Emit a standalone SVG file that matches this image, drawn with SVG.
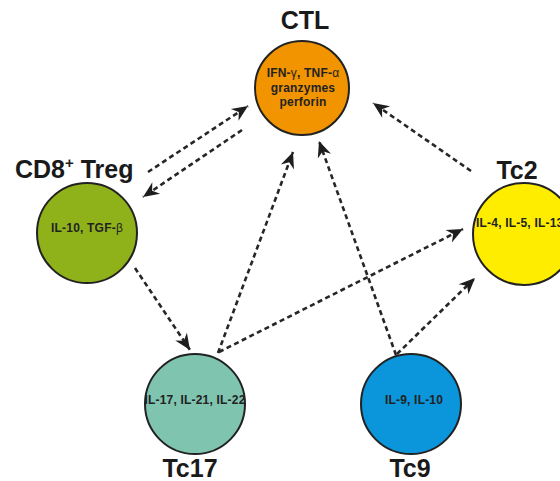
<svg xmlns="http://www.w3.org/2000/svg" width="560" height="481" viewBox="0 0 560 481">
<style>
.node circle{stroke:#222;stroke-width:2}
.lbl{font-family:"Liberation Sans",Arial,sans-serif;font-weight:bold;font-size:25px;fill:#1a1a1a}
.in{font-family:"Liberation Sans",Arial,sans-serif;font-weight:bold;font-size:12px;letter-spacing:0.2px;fill:#222}
.gr{font-weight:normal}
.conn line{stroke:#262626;stroke-width:2.6;stroke-dasharray:5 3.5;fill:none;marker-end:url(#ah)}
</style>
<defs>
<marker id="ah" viewBox="-18 -9 20 18" markerWidth="20" markerHeight="18" refX="0" refY="0" orient="auto" markerUnits="userSpaceOnUse">
<path d="M0,0 L-16,-7 L-11,0 L-16,7 Z" fill="#1e1e1e"/>
</marker>
</defs>
<rect width="560" height="481" fill="#fff"/>
<g class="conn" id="connectors">
<line x1="148" y1="172" x2="248" y2="106"/>
<line x1="242" y1="130" x2="143" y2="197"/>
<line x1="135" y1="268" x2="190" y2="350"/>
<line x1="218" y1="353" x2="293" y2="152"/>
<line x1="396" y1="355" x2="319" y2="141"/>
<line x1="219" y1="352" x2="463" y2="229"/>
<line x1="397" y1="354" x2="475" y2="278"/>
<line x1="471" y1="171" x2="373" y2="103"/>
</g>
<g class="node" id="ctl">
<circle cx="302" cy="88" r="47" fill="#F29400"/>
<text class="lbl" x="305" y="29" text-anchor="middle">CTL</text>
<text class="in" x="303" y="77" text-anchor="middle">IFN-<tspan class="gr">γ</tspan>, TNF-<tspan class="gr">α</tspan></text>
<text class="in" x="303" y="92" text-anchor="middle">granzymes</text>
<text class="in" x="303" y="106" text-anchor="middle">perforin</text>
</g>
<g class="node" id="treg">
<circle cx="87" cy="233" r="50" fill="#8FB21B"/>
<text class="lbl" x="15" y="178">CD8<tspan font-size="15" dy="-10">+</tspan><tspan dy="10"> Treg</tspan></text>
<text class="in" x="87" y="232" text-anchor="middle">IL-10, TGF-<tspan class="gr">β</tspan></text>
</g>
<g class="node" id="tc2">
<circle cx="524" cy="234" r="51" fill="#FFED00"/>
<text class="lbl" x="517" y="179" text-anchor="middle">Tc2</text>
<text class="in" x="476" y="227">IL-4, IL-5, IL-13</text>
</g>
<g class="node" id="tc17">
<circle cx="195" cy="404" r="50" fill="#7FC4AE"/>
<text class="lbl" x="190" y="477" text-anchor="middle">Tc17</text>
<text class="in" x="195" y="404" text-anchor="middle">IL-17, IL-21, IL-22</text>
</g>
<g class="node" id="tc9">
<circle cx="411" cy="404" r="50" fill="#0B95DA"/>
<text class="lbl" x="410" y="477" text-anchor="middle">Tc9</text>
<text class="in" x="414" y="404" text-anchor="middle">IL-9, IL-10</text>
</g>
</svg>
